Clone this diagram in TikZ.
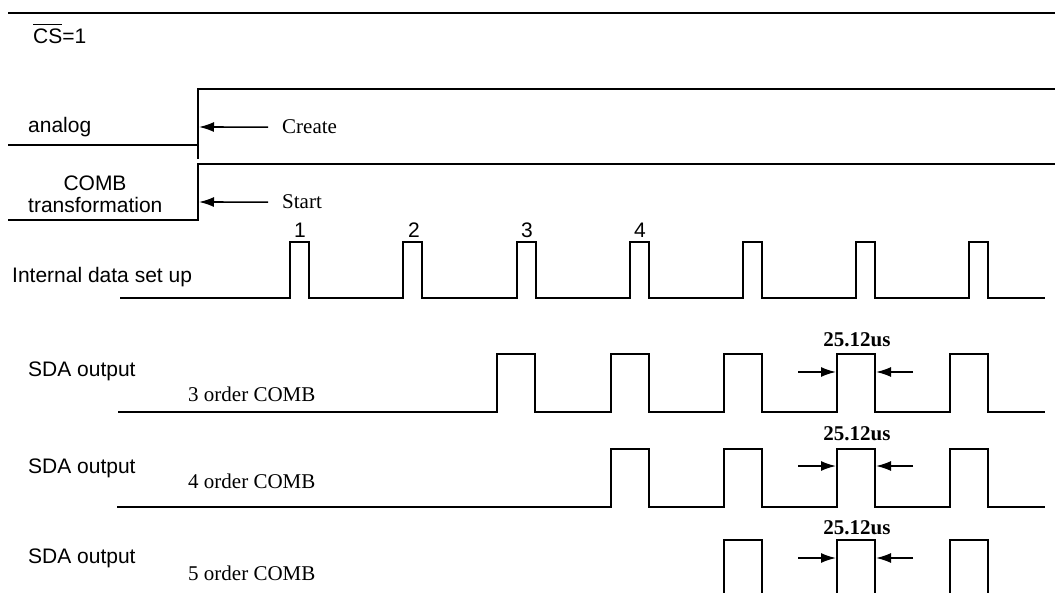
\documentclass[tikz,border=0pt]{standalone}
\usepackage{fontspec}
\setmainfont{Liberation Serif}
\setsansfont{Liberation Sans}
\usetikzlibrary{calc, arrows.meta}
\tikzset{
  % waveform lines
  sig/.style={line width=1.8pt, line join=miter},
  % arrows pointing at an edge
  tip/.style={-{Latex[length=15pt, width=10pt]}, line width=1.6pt},
  % signal names (sans)
  sigtext/.style={font=\sffamily\fontsize{21}{25}\selectfont, anchor=base west,
    inner sep=0pt},
  % notes (serif)
  note/.style={font=\fontsize{21}{25}\selectfont, anchor=base west, inner sep=0pt},
  % pulse width label
  wlabel/.style={font=\bfseries\fontsize{21}{25}\selectfont, anchor=base,
    inner sep=0pt},
}

\begin{document}
\begin{tikzpicture}[x=1pt, y=-1pt]
  \useasboundingbox (0,0) rectangle (1055,593);

  % chip select
  \draw[sig] (8,13) -- (1055,13);
  \node[sigtext] (cs) at (33,44) {$\overline{\mbox{CS}\rule{0pt}{18pt}}$=1};

  % analog
  \draw[sig] (8,145) -- (198,145);
  \draw[sig] (198,159) -- (198,89) -- (1055,89);
  \node[sigtext] (analog) at (28,133) {analog};
  \node[note] (create) at (282,134) {Create};
  \coordinate (ea) at (199,127);
  \draw[tip] ([xshift=-14pt]create.west) -- (ea);

  % COMB transformation
  \draw[sig] (8,220) -- (198,220) -- (198,164) -- (1055,164);
  \node[sigtext, anchor=base] (comb) at (95,191) {COMB};
  \node[sigtext] (trans) at (28,213) {transformation};
  \node[note] (start) at (282,209) {Start};
  \coordinate (eb) at (199,202);
  \draw[tip] ([xshift=-14pt]start.west) -- (eb);

  % internal data set up
  \node[sigtext] (intl) at (12,283) {Internal data set up};
  \draw[sig] (120,298)
    \foreach \x in {290,403,517,630,743,856,969} {
      -- (\x,298) -- (\x,242) -- (\x+19,242) -- (\x+19,298) }
    -- (1045,298);
  \foreach \n/\x in {1/300,2/414,3/527,4/640}
    \node[sigtext, anchor=base] (n\n) at (\x,238) {\n};

  % SDA output, 3 order
  \node[sigtext] (sda3) at (28,377) {SDA output};
  \node[note] (ord3) at (188,402) {3 order COMB};
  \draw[sig] (118,412)
    \foreach \x in {497,611,724,837,950} {
      -- (\x,412) -- (\x,354) -- (\x+38,354) -- (\x+38,412) }
    -- (1045,412);
  \node[wlabel] (w3) at (857,347) {25.12us};
  \coordinate (r3) at (836,372);
  \coordinate (f3) at (876,372);
  \draw[tip] ($(r3)+(-38,0)$) -- (r3);
  \draw[tip] ($(f3)+(37,0)$) -- (f3);

  % SDA output, 4 order
  \node[sigtext] (sda4) at (28,473) {SDA output};
  \node[note] (ord4) at (188,488) {4 order COMB};
  \draw[sig] (117,507)
    \foreach \x in {611,724,837,950} {
      -- (\x,507) -- (\x,449) -- (\x+38,449) -- (\x+38,507) }
    -- (1045,507);
  \node[wlabel] (w4) at (857,441) {25.12us};
  \coordinate (r4) at (836,466);
  \coordinate (f4) at (876,466);
  \draw[tip] ($(r4)+(-38,0)$) -- (r4);
  \draw[tip] ($(f4)+(37,0)$) -- (f4);

  % SDA output, 5 order
  \node[sigtext] (sda5) at (28,563) {SDA output};
  \node[note] (ord5) at (188,580) {5 order COMB};
  \foreach \x in {724,837,950}
    \draw[sig] (\x,593) -- (\x,540) -- (\x+38,540) -- (\x+38,593);
  \node[wlabel] (w5) at (857,534) {25.12us};
  \coordinate (r5) at (836,558);
  \coordinate (f5) at (876,558);
  \draw[tip] ($(r5)+(-38,0)$) -- (r5);
  \draw[tip] ($(f5)+(37,0)$) -- (f5);
\end{tikzpicture}
\end{document}
